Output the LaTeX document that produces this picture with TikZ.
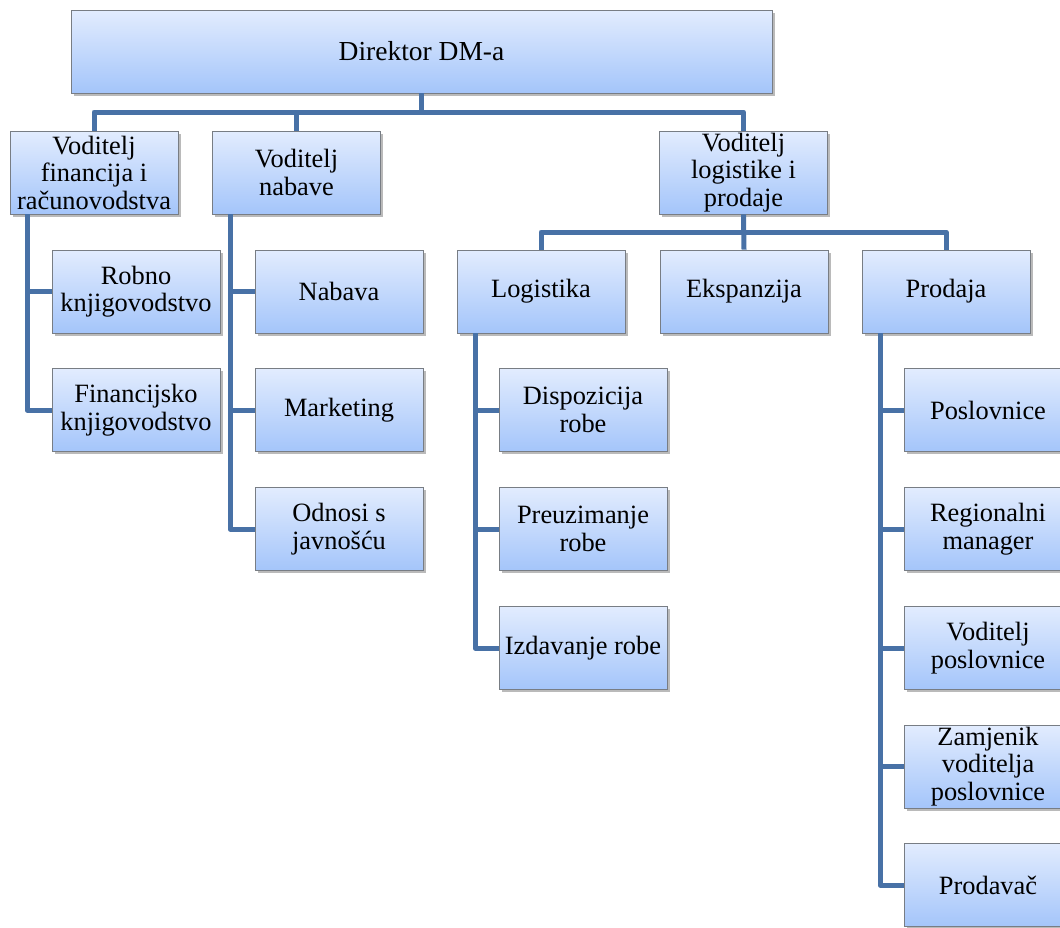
\documentclass[tikz,border=0pt]{standalone}
\usepackage{fontspec}
\setmainfont{Liberation Serif}
\usetikzlibrary{shadows}
\definecolor{boxtop}{RGB}{226,236,254}
\definecolor{boxbot}{RGB}{164,197,250}
\definecolor{boxedge}{RGB}{120,125,132}
\definecolor{conncol}{RGB}{72,113,166}
\tikzset{
  box/.style={draw=boxedge, line width=0.8pt, rectangle, minimum width=168pt, minimum height=83pt,
    inner sep=1pt, align=center, top color=boxtop, bottom color=boxbot,
    font=\fontsize{26.4}{27.5}\selectfont,
    drop shadow={shadow xshift=2.5pt, shadow yshift=-2.5pt, opacity=0.45, fill=black!60}},
  conn/.style={draw=conncol, line width=5pt, line join=round}
}
\begin{document}
\begin{tikzpicture}[x=1pt,y=-1pt]
\useasboundingbox (0,0) rectangle (1060,927);
\clip (0,0) rectangle (1060,927);
% top
\node[box, minimum width=701pt, font=\fontsize{27.5}{29}\selectfont] (dir) at (421.5,51.5) {Direktor DM-a};
% level 2
\node[box] (fin) at (94,172.5) {Voditelj\\financija i\\računovodstva};
\node[box] (nab) at (296.5,172.5) {Voditelj\\nabave};
\node[box] (vlp) at (743.5,172.5) {Voditelj\\logistike i\\prodaje};
% level 3
\node[box] (logi) at (541,291.5) {Logistika};
\node[box] (eksp) at (744,291.5) {Ekspanzija};
\node[box] (prod) at (946,291.5) {Prodaja};
\node[box] (robno) at (136,291.5) {Robno\\knjigovodstvo};
\node[box] (nabava) at (339,291.5) {Nabava};
% level 4
\node[box] (finkn) at (136,410) {Financijsko\\knjigovodstvo};
\node[box] (mark) at (339,410) {Marketing};
\node[box] (odnosi) at (339,529) {Odnosi s\\javnošću};
\node[box] (disp) at (583,410) {Dispozicija\\robe};
\node[box] (preuz) at (583,529) {Preuzimanje\\robe};
\node[box] (izd) at (583,648) {Izdavanje robe};
\node[box] (posl) at (988,410) {Poslovnice};
\node[box] (reg) at (988,529) {Regionalni\\manager};
\node[box] (vposl) at (988,648) {Voditelj\\poslovnice};
\node[box] (zam) at (988,766.5) {Zamjenik\\voditelja\\poslovnice};
\node[box] (prodv) at (988,885) {Prodavač};
% connectors level 1-2
\coordinate (b1) at (0,112);
\draw[conn] (dir.south) -- (dir.south |- b1);
\draw[conn] (fin.north) -- (fin.north |- b1) -- (vlp.north |- b1) -- (vlp.north);
\draw[conn] (nab.north) -- (nab.north |- b1);
% connectors level 2-3 (logistics)
\coordinate (b2) at (0,232);
\draw[conn] (logi.north) -- (logi.north |- b2) -- (prod.north |- b2) -- (prod.north);
\draw[conn] (vlp.south) -- (eksp.north);
% side trees
\coordinate (fv) at (27,214);
\draw[conn] (fv) |- (finkn.west);
\draw[conn] (fv |- robno.west) -- (robno.west);
\coordinate (nv) at (230,214);
\draw[conn] (nv) |- (odnosi.west);
\draw[conn] (nv |- nabava.west) -- (nabava.west);
\draw[conn] (nv |- mark.west) -- (mark.west);
\coordinate (lv) at (475,333);
\draw[conn] (lv) |- (izd.west);
\draw[conn] (lv |- disp.west) -- (disp.west);
\draw[conn] (lv |- preuz.west) -- (preuz.west);
\coordinate (pv) at (880,333);
\draw[conn] (pv) |- (prodv.west);
\draw[conn] (pv |- posl.west) -- (posl.west);
\draw[conn] (pv |- reg.west) -- (reg.west);
\draw[conn] (pv |- vposl.west) -- (vposl.west);
\draw[conn] (pv |- zam.west) -- (zam.west);
\end{tikzpicture}
\end{document}
